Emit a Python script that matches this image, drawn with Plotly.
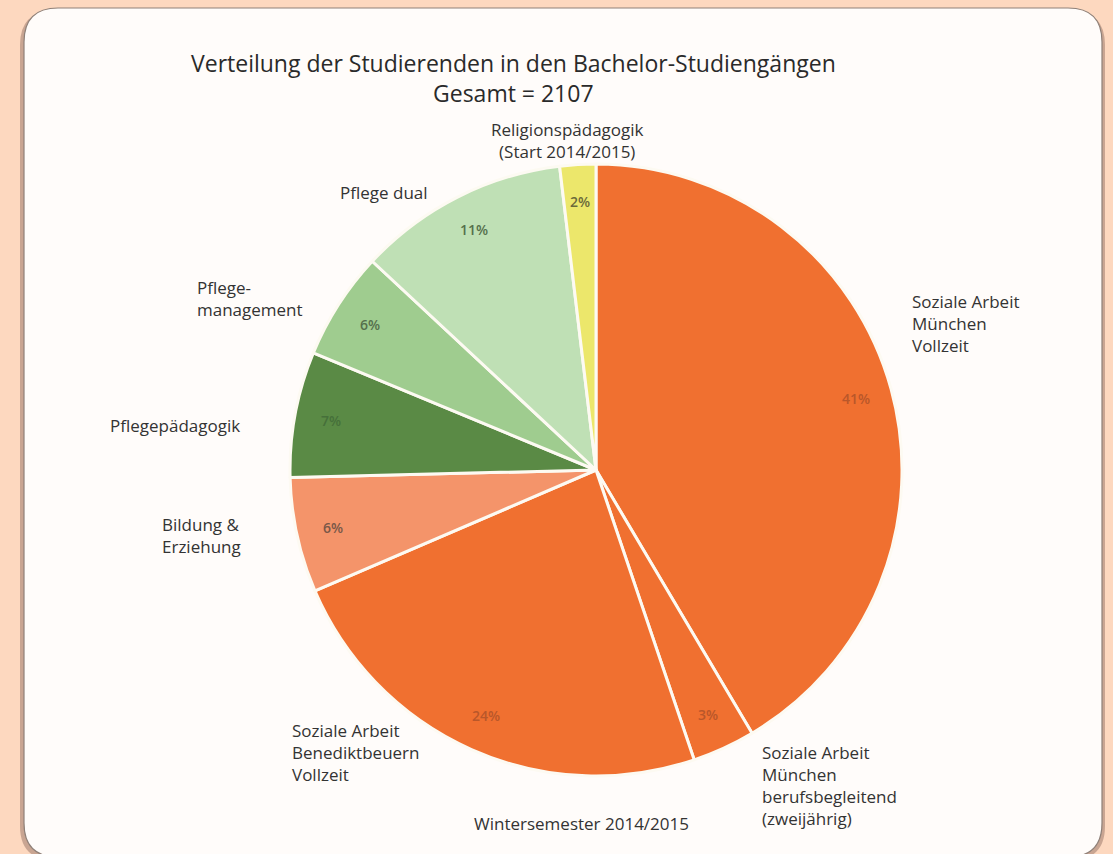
"""
Pie chart: distribution of students across bachelor programmes (WS 2014/2015).
"""

import math

import plotly.graph_objects as go

W, H = 1113, 854

# clockwise from 12 o'clock
programmes = [
    "Soziale Arbeit<br>München<br>Vollzeit",
    "Soziale Arbeit<br>München<br>berufsbegleitend<br>(zweijährig)",
    "Soziale Arbeit<br>Benediktbeuern<br>Vollzeit",
    "Bildung &<br>Erziehung",
    "Pflegepädagogik",
    "Pflege-<br>management",
    "Pflege dual",
    "Religionspädagogik<br>(Start 2014/2015)",
]
students = [874, 70, 500, 128, 140, 120, 235, 40]
slice_colors = ["#f07030", "#f07030", "#f07030", "#f4946a", "#5a8a45", "#9fcc8f", "#bfe0b5", "#ece76b"]
pct_colors = ["#b9572a", "#b9572a", "#b9572a", "#7a5848", "#46703a", "#55704c", "#55704c", "#6b6a3a"]

total = sum(students)

# pie geometry in pixels (layout, not data)
CX, CY, R = 596, 470, 306


def px(x):
    return x / W


def py(y):
    return (H - y) / H


fig = go.Figure(go.Pie(
    labels=[lab.replace("<br>", " ") for lab in programmes],
    values=students,
    sort=False,
    direction="clockwise",
    rotation=0,
    marker=dict(colors=slice_colors, line=dict(color="#fdfaf2", width=3)),
    textinfo="none",
    hovertemplate="%{label}: %{value} (%{percent})<extra></extra>",
    showlegend=False,
    domain=dict(x=[px(CX - R), px(CX + R)], y=[py(CY + R), py(CY - R)]),
))

annotations = []

# percentage labels placed at the middle angle of each slice
cum = 0
for val, col in zip(students, pct_colors):
    mid = (cum + val / 2) / total * 2 * math.pi
    cum += val
    r = R * 0.88
    annotations.append(dict(
        x=px(CX + r * math.sin(mid)), y=py(CY - r * math.cos(mid)),
        xref="paper", yref="paper", xanchor="center", yanchor="middle",
        showarrow=False,
        text=f"{round(val / total * 100)}%",
        font=dict(size=14, color=col, family="Open Sans", weight=600),
    ))

# category labels (pixel positions of the text blocks, left edge / centre)
label_pos = [
    (910, 299, "left"),
    (760, 750, "left"),
    (290, 728, "left"),
    (160, 522, "left"),
    (108, 423, "left"),
    (195, 285, "left"),
    (430, 190, "right"),
    (567, 127, "center"),
]
for lab, (lx, ly, al) in zip(programmes, label_pos):
    annotations.append(dict(
        x=px(lx), y=py(ly - 11), xref="paper", yref="paper",
        xanchor=al, yanchor="top", align=al, showarrow=False,
        text=lab, font=dict(size=17, color="#333333", family="Open Sans"),
    ))

annotations += [
    dict(x=px(513), y=py(63), xref="paper", yref="paper", showarrow=False,
         xanchor="center", yanchor="middle",
         text="Verteilung der Studierenden in den Bachelor-Studiengängen",
         font=dict(size=23, color="#2a2a2a", family="Open Sans")),
    dict(x=px(513), y=py(93), xref="paper", yref="paper", showarrow=False,
         xanchor="center", yanchor="middle",
         text="Gesamt = 2107",
         font=dict(size=23, color="#2a2a2a", family="Open Sans")),
    dict(x=px(581), y=py(823), xref="paper", yref="paper", showarrow=False,
         xanchor="center", yanchor="middle",
         text="Wintersemester 2014/2015",
         font=dict(size=17, color="#333333", family="Open Sans")),
]


def rounded_panel(x0, y0, x1, y1, rad):
    return (
        f"M {px(x0)},{py(y0 + rad)} "
        f"Q {px(x0)},{py(y0)} {px(x0 + rad)},{py(y0)} "
        f"L {px(x1 - rad)},{py(y0)} "
        f"Q {px(x1)},{py(y0)} {px(x1)},{py(y0 + rad)} "
        f"L {px(x1)},{py(y1 - rad)} "
        f"Q {px(x1)},{py(y1)} {px(x1 - rad)},{py(y1)} "
        f"L {px(x0 + rad)},{py(y1)} "
        f"Q {px(x0)},{py(y1)} {px(x0)},{py(y1 - rad)} Z"
    )


fig.update_layout(
    width=W,
    height=H,
    margin=dict(l=0, r=0, t=0, b=0),
    paper_bgcolor="#fdd8bf",
    plot_bgcolor="#fdd8bf",
    annotations=annotations,
    shapes=[
        dict(type="path", xref="paper", yref="paper", layer="below",
             path=rounded_panel(20, 11, 1105, 860, 34),
             fillcolor="#c9a592", line=dict(width=0)),
        dict(type="path", xref="paper", yref="paper", layer="below",
             path=rounded_panel(24, 8, 1102, 857, 34),
             fillcolor="#fffcfa", line=dict(color="#8f8078", width=1.2)),
    ],
)

# the page body has a default 8px margin; drop it so pixels line up
fig.write_html(
    "out.html",
    config={"displayModeBar": False},
    post_script="document.body.style.margin='0';",
)
